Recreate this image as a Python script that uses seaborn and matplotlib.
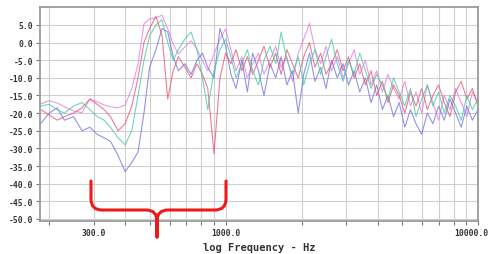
import numpy as np
import pandas as pd
import matplotlib
matplotlib.use('Agg')
from matplotlib import pyplot as plt
from matplotlib.path import Path
from matplotlib.patches import PathPatch
from matplotlib.transforms import ScaledTranslation
from matplotlib.ticker import FixedLocator, FixedFormatter, NullFormatter
import seaborn as sns

# frequency points (Hz)
freq = [185, 200, 215, 230, 250, 270, 290, 310, 330, 350, 375, 400, 425, 450, 475,
        500, 530, 560, 590, 620, 650, 690, 730, 770, 810, 850, 900, 950, 1000,
        1050, 1100, 1160, 1220, 1280, 1350, 1420, 1500, 1580, 1660, 1750, 1840, 1940,
        2040, 2150, 2260, 2380, 2500, 2630, 2770, 2920, 3070, 3230, 3400, 3580, 3770,
        3970, 4180, 4400, 4630, 4870, 5130, 5400, 5680, 5980, 6300, 6630, 6980, 7350,
        7740, 8150, 8580, 9030, 9500, 10000]

# response of each trace (dB)
pink = [-17.4, -16.5, -17.1, -18.2, -19.4, -19.9, -16.0, -16.8, -17.7, -18.2, -18.5, -17.7, -13.1, -6.0, 5.3,
        6.7, 7.0, 7.8, 3.9, -0.4, -3.2, -1.2, 0.5, -1.8, -5.2, -8.0, -3.2, 1.0, 3.9,
        -2, -8, -4, -10, -6, -3, -9, -5, -1, -7, -4, -11, -3,
        1, 5.5, -2, -6, -1, -8, -4, -10, -6, -2, -9, -5, -12,
        -8, -14, -9, -13, -16, -11, -18, -14, -20, -12, -17, -22, -15,
        -19, -13, -17, -21, -14, -17]
blue = [-23, -20, -18.5, -22, -21, -25, -24, -26, -27, -28, -32, -36.6, -34, -31, -20,
        -7, -2, 4, 3, -4, -8, -6, -9, -5, -3, -7, -10, 4, -1,
        -9, -13, -5, -14, -3, -8, -15, -6, -10, -4, -12, -8, -20,
        -9, -3, -11, -7, -13, -5, -10, -6, -12, -8, -14, -10, -17,
        -12, -19, -15, -21, -17, -24, -19, -23, -26, -20, -23, -18, -22,
        -16, -20, -24, -18, -22, -19]
red = [-19, -20.5, -22, -21, -20, -18.5, -16, -17.5, -19, -21, -25, -23, -18, -10, 0,
       4, 7.5, 2, -16, -8, -4, -7, -10, -6, -9, -13, -31.5, -10, -3,
       -6, -2, -8, -4, -9, -5, -1, -7, -3, -9, -2, -6, -10,
       -4, 0, -7, -3, -9, -6, -2, -8, -4, -10, -6, -12, -8,
       -15, -11, -17, -12, -15, -20, -14, -18, -13, -19, -15, -12, -17,
       -21, -14, -11, -16, -13, -18]
green = [-18, -17.5, -19, -20, -18, -17, -19, -21, -22, -24, -27, -29, -25, -15, -5,
         2, 5, 6.5, 0, -5, -2, 1, 3, -2, -10, -19, -8, -2, 1,
         -4, -10, -6, -2, -8, -12, -5, -1, -6, 3, -5, -9, -4,
         -12, -6, -2, -9, -4, 1, -6, -11, -5, -9, -3, -8, -13,
         -9, -12, -16, -10, -14, -18, -13, -21, -16, -12, -18, -14, -20,
         -15, -18, -22, -15, -19, -16]

trace_names = ['pink', 'blue', 'red', 'green']
trace_colors = {'pink': '#e27ae0', 'blue': '#6f6fe6', 'red': '#e45470', 'green': '#44c9a2'}

yticks = [5, 0, -5, -10, -15, -20, -25, -30, -35, -40, -45, -50]
xmajor = [300, 1000, 10000]
xminor = [200, 400, 500, 600, 700, 800, 900, 2000, 3000, 4000, 5000, 6000, 7000, 8000, 9000]

df = pd.DataFrame({
    'freq': freq * 4,
    'db': pink + blue + red + green,
    'trace': [n for n in trace_names for _ in freq],
})

sns.set_style('white')
plt.rcParams['font.family'] = ['DejaVu Sans Mono']

fig = plt.figure(figsize=(4.9, 2.55), dpi=100)
ax = fig.add_axes([40 / 490, 1 - 222 / 255, 438 / 490, 214 / 255])

sns.lineplot(data=df, x='freq', y='db', hue='trace', palette=trace_colors,
             estimator=None, sort=False, linewidth=0.8, alpha=0.75, legend=False, ax=ax)

ax.set_xscale('log')
ax.set_xlim(184, 10000)
ax.set_ylim(-50.6, 10.1)

ax.xaxis.set_major_locator(FixedLocator(xmajor))
ax.xaxis.set_major_formatter(FixedFormatter(['%.1f' % v for v in xmajor]))
ax.xaxis.set_minor_locator(FixedLocator(xminor))
ax.xaxis.set_minor_formatter(NullFormatter())
ax.set_yticks(yticks)
ax.set_yticklabels(['%.1f' % v for v in yticks])

ax.tick_params(axis='both', which='both', direction='out', length=3, width=0.8,
               color='#777777', labelsize=5.8, labelcolor='#333333', pad=2, bottom=True, left=True)
for lab in ax.get_xticklabels() + ax.get_yticklabels():
    lab.set_fontweight('bold')
# last x label sits a bit left of its tick so it stays inside the picture
last = ax.get_xticklabels()[-1]
last.set_transform(last.get_transform() + ScaledTranslation(-0.07, 0, fig.dpi_scale_trans))

ax.grid(True, which='both', color='#cfcfcf', linewidth=0.8)
ax.set_axisbelow(True)
for s in ax.spines.values():
    s.set_color('#9a9a9a')
    s.set_linewidth(1.3)

ax.set_xlabel('log Frequency - Hz', fontsize=7.5, fontweight='bold', color='#333333', labelpad=4)
ax.set_ylabel('')

# red curly brace overlay (figure pixel coords, y down)
W, H = 490.0, 255.0
pts = [(91, 182), (91, 200), (91, 211), (102, 211), (146, 211), (157, 211), (157, 222), (157, 238),
       (157, 222), (157, 211), (168, 211), (215, 211), (226, 211), (226, 200), (226, 182)]
codes = [Path.MOVETO, Path.LINETO, Path.CURVE3, Path.CURVE3, Path.LINETO, Path.CURVE3, Path.CURVE3,
         Path.LINETO, Path.LINETO, Path.CURVE3, Path.CURVE3, Path.LINETO, Path.CURVE3, Path.CURVE3,
         Path.LINETO]
verts = [(x / W, 1 - y / H) for x, y in pts]
brace = PathPatch(Path(verts, codes), transform=fig.transFigure, fill=False,
                  edgecolor='#ee1a1a', linewidth=2.2, capstyle='round', joinstyle='round')
fig.patches.append(brace)

fig.savefig('out.png', dpi=100)
